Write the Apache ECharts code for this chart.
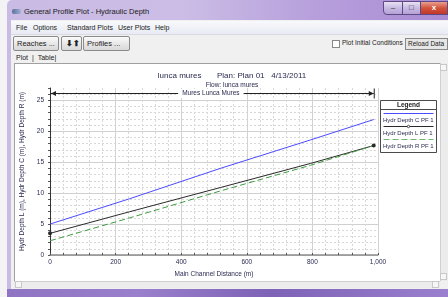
<!DOCTYPE html>
<html>
<head>
<meta charset="utf-8">
<script src="https://cdn.jsdelivr.net/npm/echarts@6/dist/echarts.min.js"></script>
<style>
  html, body { margin: 0; padding: 0; }
  body { width: 448px; height: 297px; position: relative; overflow: hidden; background: #f3f3f5;
         font-family: "Liberation Sans", Arial, sans-serif; color: #111; }
  .abs { position: absolute; }
  .frame { left: 7px; top: 0; width: 441px; height: 297px; border-radius: 5px 0 0 0;
           background: linear-gradient(90deg, #c9bbe3 0%, #cbbde6 40%, #b79fdc 70%, #a98bd3 100%); }
  .bottomframe { left: 7px; top: 289px; width: 441px; height: 8px;
           background: linear-gradient(90deg, #8e74c2, #9a7fcc 30%, #7d62b6 60%, #9b80cf); }
  .ttl { left: 24px; top: 7px; font-size: 7.5px; color: #1a1a1a; white-space: nowrap; }
  .icon { left: 12px; top: 9px; width: 9px; height: 5px; border-radius: 2px;
          background: linear-gradient(90deg, #5b6f9a, #9fb2d6); }
  .wb { top: 1px; height: 14px; border: 1px solid #5d4a82; box-sizing: border-box; font-size: 8px;
        text-align: center; line-height: 12px; color: #333; }
  .wmin { left: 383px; width: 20px; border-radius: 0 0 0 4px;
          background: linear-gradient(#e8e2f3, #c7b9e2 50%, #b5a2d8); }
  .wmax { left: 402px; width: 19px; background: linear-gradient(#e8e2f3, #c7b9e2 50%, #b5a2d8); }
  .wcls { left: 420px; width: 28px; color: #fff; font-weight: bold;
          background: linear-gradient(#e9a08e, #d2533c 50%, #c0392b); }
  .client { left: 11px; top: 20px; width: 437px; height: 269px; background: #f0f0f0; }
  .menubar { left: 11px; top: 21px; width: 437px; height: 13px;
             background: linear-gradient(#f8f9fc, #e8ebf3); border-bottom: 1px solid #d8dbe4; }
  .mi { top: 24px; font-size: 7px; white-space: nowrap; color: #222; }
  .btn { top: 36px; height: 15px; box-sizing: border-box; border: 1px solid #8a8a8a; border-radius: 2px;
         background: linear-gradient(#fbfbfb, #e6e6e6 55%, #d9d9d9); font-size: 7.5px; line-height: 13px;
         padding-left: 3px; white-space: nowrap; color: #222; }
  .chk { left: 332px; top: 40px; width: 6px; height: 6px; border: 1px solid #888; background: #fff; }
  .chkt { left: 342px; top: 39px; font-size: 6.5px; white-space: nowrap; color: #222; }
  .reload { left: 405px; top: 38px; width: 43px; height: 12px; box-sizing: border-box; border: 1px solid #888;
            background: #e6e6e6; font-size: 6.5px; line-height: 10px; padding-left: 2px; white-space: nowrap; color: #222; }
  .tabs { left: 16px; top: 54px; font-size: 7px; white-space: nowrap; color: #222; }
  .panel { left: 14px; top: 63px; width: 426px; height: 218px; background: #fff;
           border-top: 1px solid #a0a0a0; border-left: 1px solid #a0a0a0; box-sizing: border-box; }
  .vs { left: 440px; top: 63px; width: 8px; height: 218px; background: #ececec; border-left: 1px solid #d0d0d0; box-sizing: border-box; }
  .hs { left: 14px; top: 281px; width: 426px; height: 7px; background: #ececec; border-top: 1px solid #d0d0d0; box-sizing: border-box; }
  .sa { width: 7px; height: 7px; background: #f6f6f6; border: 1px solid #c8c8c8; box-sizing: border-box; }
  #chart { position: absolute; left: 0; top: 0; width: 448px; height: 297px; z-index: 5; }
</style>
</head>
<body>
<div class="abs frame"></div>
<div class="abs icon"></div>
<div class="abs ttl">General Profile Plot - Hydraulic Depth</div>
<div class="abs wb wmin">&#8211;</div>
<div class="abs wb wmax">&#9633;</div>
<div class="abs wb wcls">x</div>
<div class="abs client"></div>
<div class="abs bottomframe"></div>
<div class="abs menubar"></div>
<div class="abs mi" style="left:16px">File</div>
<div class="abs mi" style="left:33px">Options</div>
<div class="abs mi" style="left:67px">Standard Plots</div>
<div class="abs mi" style="left:118px">User Plots</div>
<div class="abs mi" style="left:155px">Help</div>
<div class="abs btn" style="left:13px;width:46px">Reaches ...</div>
<div class="abs btn" style="left:61px;width:21px;font-weight:bold;padding-left:4px">&#11015;&#11014;</div>
<div class="abs btn" style="left:83px;width:47px">Profiles ...</div>
<div class="abs chk"></div>
<div class="abs chkt">Plot Initial Conditions</div>
<div class="abs reload">Reload Data</div>
<div class="abs tabs">Plot&nbsp;&nbsp;|&nbsp;&nbsp;Table|</div>
<div class="abs panel"></div>
<div class="abs vs"></div>
<div class="abs sa" style="left:440px;top:64px"></div>
<div class="abs sa" style="left:440px;top:273px"></div>
<div class="abs hs"></div>
<div class="abs sa" style="left:15px;top:281px"></div>
<div class="abs sa" style="left:432px;top:281px"></div>
<div id="chart"></div>
<script>
// main channel distance (m) of the points
const distance = [0, 243, 519, 794, 987];
// hydraulic depths (m)
const depthC = [5.0, 9.1, 14.0, 18.6, 21.9];
const depthL = [3.5, 7.0, 10.9, 14.8, 17.7];
const depthR = [2.3, 6.0, 10.35, 14.5, 17.7];
const seriesNames = ['Hydr Depth C PF 1', 'Hydr Depth L PF 1', 'Hydr Depth R PF 1'];
const reachName = 'Mures Lunca Mures';
const xMax = 1000, xStep = 200;
const yMax = 27, yStep = 5;

const font = '"Liberation Sans", Arial, sans-serif';
const txt = '#2a2a50';

function pairs(vals) {
  return distance.map((d, i) => [d, vals[i]]);
}

const chart = echarts.init(document.getElementById('chart'));

chart.setOption({
  animation: false,
  textStyle: { fontFamily: font },
  title: {
    text: 'lunca mures       Plan: Plan 01   4/13/2011',
    subtext: 'Flow: lunca mures',
    left: 227,
    top: 67,
    textAlign: 'center',
    itemGap: 2,
    textStyle: { fontSize: 8, fontWeight: 'normal', color: txt, fontFamily: font },
    subtextStyle: { fontSize: 6.5, color: txt, fontFamily: font }
  },
  grid: { left: 50, right: 70, top: 88, bottom: 42 },
  xAxis: {
    type: 'value',
    min: 0,
    max: xMax,
    interval: xStep,
    name: 'Main Channel Distance (m)',
    nameLocation: 'middle',
    nameGap: 16,
    nameTextStyle: { fontSize: 6.5, color: txt },
    axisLine: { lineStyle: { color: '#8c8c8c', width: 1.5 } },
    axisTick: { show: true, inside: true, length: 2, lineStyle: { color: '#555' } },
    minorTick: { show: true, splitNumber: 5, length: 2, lineStyle: { color: '#555' } },
    axisLabel: { fontSize: 6.5, color: txt, margin: 4 },
    splitLine: { show: true, lineStyle: { color: '#d2d2d2', width: 1 } },
    minorSplitLine: { show: true, lineStyle: { color: '#d8d8d8', type: [2, 2] } }
  },
  yAxis: [
    {
      type: 'value',
      min: 0,
      max: yMax,
      interval: 1,
      position: 'left',
      axisLine: { show: true, lineStyle: { color: '#333', width: 1 } },
      axisTick: { show: true, length: 2, lineStyle: { color: '#555' } },
      axisLabel: { show: false },
      splitLine: { show: true, showMaxLine: false, lineStyle: { color: '#d8d8d8', type: [2, 2] } }
    },
    {
      type: 'value',
      min: 0,
      max: yMax,
      interval: yStep,
      position: 'left',
      name: 'Hydr Depth L (m), Hydr Depth C (m), Hydr Depth R (m)',
      nameLocation: 'middle',
      nameGap: 23,
      nameTextStyle: { fontSize: 6.5, color: txt },
      axisLine: { show: false },
      axisTick: { show: false },
      axisLabel: { fontSize: 6.5, color: txt, margin: 6, showMaxLabel: false },
      splitLine: { show: true, showMaxLine: false, lineStyle: { color: '#d0d0d0', width: 1 } }
    }
  ],
  series: [
    {
      name: seriesNames[0],
      type: 'line',
      data: pairs(depthC),
      symbol: 'none',
      silent: true,
      lineStyle: { color: '#4a4aff', width: 1 }
    },
    {
      name: seriesNames[1],
      type: 'line',
      data: pairs(depthL).map((p, i) => (i === 0 || i === distance.length - 1)
        ? { value: p, symbol: 'emptyCircle', symbolSize: 2 } : { value: p, symbol: 'none' }),
      silent: true,
      itemStyle: { color: '#2a2a2a', borderWidth: 0.8 },
      lineStyle: { color: '#2a2a2a', width: 1 }
    },
    {
      name: seriesNames[2],
      type: 'line',
      data: pairs(depthR),
      symbol: 'none',
      silent: true,
      lineStyle: { color: '#3f9c3f', width: 1, type: [6, 3] }
    }
  ]
});

// reach arrow over the plot and the boxed legend
const xa = chart.convertToPixel({ xAxisIndex: 0 }, distance[0]);
const xb = chart.convertToPixel({ xAxisIndex: 0 }, distance[distance.length - 1]);
const ay = 93.5;
const lx = 380.5, ly = 100.5, lw = 56, lh = 52;
const legendRows = [
  { y: 113.5, color: '#4a4aff', dash: null, marker: false },
  { y: 126.5, color: '#2a2a2a', dash: null, marker: true },
  { y: 139.5, color: '#6fb86f', dash: [6, 3], marker: false }
];

const graphic = [
  { type: 'line', shape: { x1: xa, y1: ay, x2: xb, y2: ay }, style: { stroke: '#222', lineWidth: 1 }, z: 10 },
  { type: 'polygon', shape: { points: [[xa + 1, ay], [xa + 6, ay - 2.5], [xa + 6, ay + 2.5]] }, style: { fill: '#222' }, z: 10 },
  { type: 'polygon', shape: { points: [[xb, ay], [xb - 5, ay - 2.5], [xb - 5, ay + 2.5]] }, style: { fill: '#222' }, z: 10 },
  { type: 'line', shape: { x1: xb + 0.5, y1: ay - 5, x2: xb + 0.5, y2: ay + 5 }, style: { stroke: '#222', lineWidth: 1 }, z: 10 },
  { type: 'text', x: (xa + xb) / 2 - 1, y: ay, z: 11,
    style: { text: reachName, fontSize: 6.5, fontFamily: font, fill: txt, align: 'center', verticalAlign: 'middle',
             backgroundColor: '#fff', padding: [1, 4] } },
  { type: 'rect', shape: { x: lx, y: ly, width: lw, height: lh }, style: { fill: '#fff', stroke: '#4a4a4a', lineWidth: 1 }, z: 10 },
  { type: 'line', shape: { x1: lx, y1: 109.5, x2: lx + lw, y2: 109.5 }, style: { stroke: '#4a4a4a', lineWidth: 1 }, z: 11 },
  { type: 'text', x: lx + lw / 2, y: 105.5, z: 11,
    style: { text: 'Legend', fontSize: 6.5, fontWeight: 'bold', fontFamily: font, fill: '#222', align: 'center', verticalAlign: 'middle' } }
];
legendRows.forEach((r, i) => {
  graphic.push({ type: 'line', shape: { x1: lx + 3, y1: r.y, x2: lx + lw - 3, y2: r.y }, z: 11,
    style: { stroke: r.color, lineWidth: 1, lineDash: r.dash } });
  if (r.marker) {
    graphic.push({ type: 'circle', shape: { cx: lx + lw / 2, cy: r.y, r: 1.2 }, z: 12,
      style: { fill: '#fff', stroke: r.color, lineWidth: 0.8 } });
  }
  graphic.push({ type: 'text', x: lx + 2.5, y: r.y + 6.5, z: 11,
    style: { text: seriesNames[i], fontSize: 6, fontFamily: font, fill: txt, align: 'left', verticalAlign: 'middle' } });
});
chart.setOption({ graphic: graphic });
</script>
</body>
</html>
